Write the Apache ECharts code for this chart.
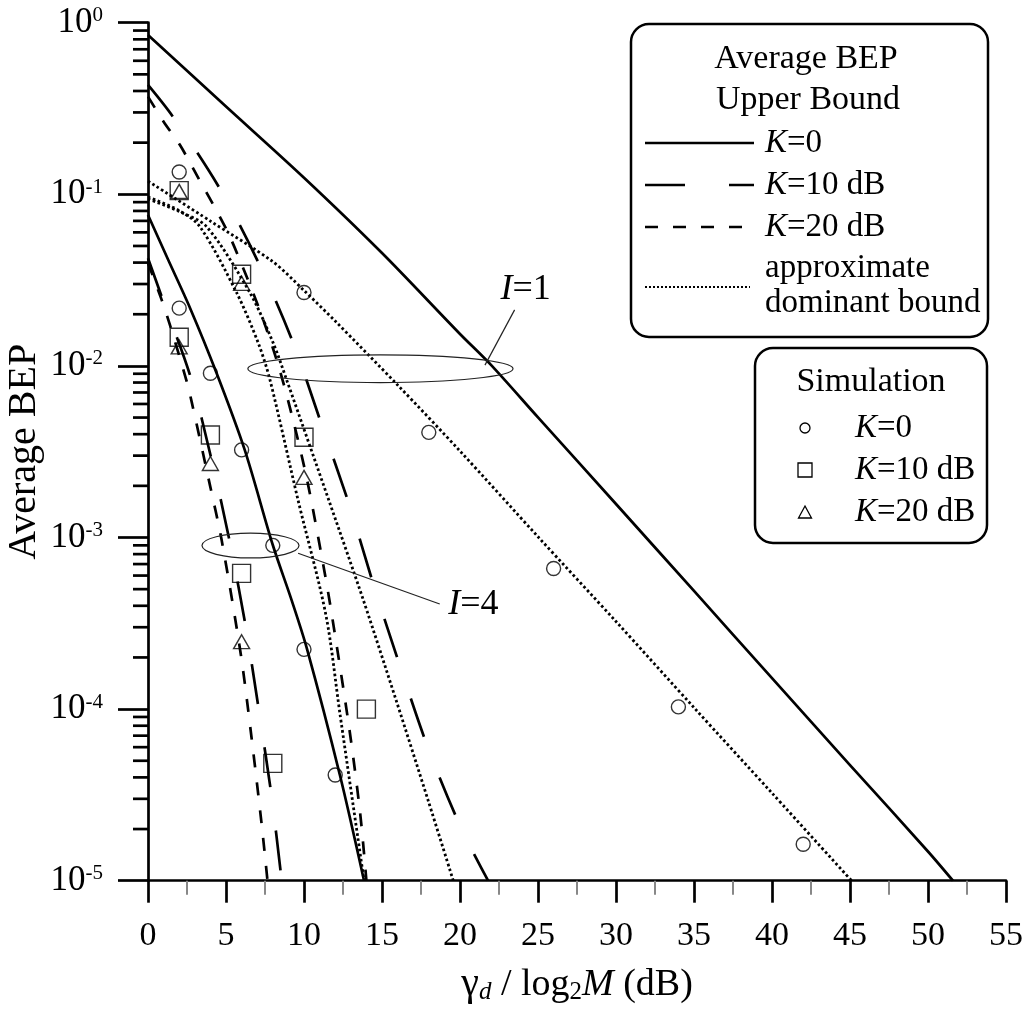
<!DOCTYPE html>
<html><head><meta charset="utf-8">
<script src="https://cdn.jsdelivr.net/npm/echarts@6/dist/echarts.min.js"></script>
<style>html,body{margin:0;padding:0;background:#fff}#c{width:1023px;height:1012px}</style>
</head><body><div id="c"></div>
<script>
const FONT = "'Liberation Serif','Times New Roman',serif";

// ---------- data ----------
// Upper bounds, I = 1
const ub1_K0_x  = [0, 5, 10, 15, 20, 22, 25, 30, 35, 40, 45, 50, 51.6];
const ub1_K0_y  = [0.847, 0.325, 0.125, 0.0455, 0.01535, 0.0101, 5.01e-3, 1.567e-3, 4.88e-4, 1.514e-4, 4.72e-5, 1.48e-5, 1.0e-5];
const ub1_K10_x = [0, 1.6, 4.6, 7.1, 9.3, 11.1, 12.9, 14.5, 16.2, 18.0, 20.1, 21.8];
const ub1_K10_y = [0.434, 0.283, 0.108, 0.0396, 0.01365, 4.63e-3, 1.55e-3, 5.16e-4, 1.73e-4, 5.78e-5, 2.0e-5, 1.0e-5];
const ub1_K20_x = [0, 1.0, 2.05, 3.3, 4.2, 5.1, 5.8, 7.2, 8.35, 9.3, 10.2, 11.1, 11.7, 12.9, 13.6, 14.0];
const ub1_K20_y = [0.371, 0.265, 0.1936, 0.121, 0.0865, 0.0605, 0.0433, 0.0207, 0.0101, 4.84e-3, 2.16e-3, 8.09e-4, 3.95e-4, 7.73e-5, 2.47e-5, 1.0e-5];
// Approximate dominant bounds, I = 1
const ap1_K0_x  = [0, 4, 8, 10, 12, 16, 20, 25, 30, 35, 40, 45.1];
const ap1_K0_y  = [0.1194, 0.0698, 0.0405, 0.0275, 0.01824, 7.74e-3, 3.19e-3, 1.01e-3, 3.24e-4, 1.02e-4, 3.24e-5, 1.0e-5];
const ap1_K10_x = [0, 2, 3.76, 6.54, 8.03, 8.89, 11.59, 13.8, 15.9, 17.95, 19.57];
const ap1_K10_y = [0.094, 0.0794, 0.0647, 0.0266, 0.01358, 8.28e-3, 1.65e-3, 4.33e-4, 1.13e-4, 2.95e-5, 1.0e-5];
const ap1_K20_x = [0, 2, 3.33, 5.69, 7.07, 7.82, 9.62, 11.4, 12.3, 13.85];
const ap1_K20_y = [0.0964, 0.0804, 0.0647, 0.0266, 0.01358, 8.28e-3, 1.65e-3, 3.55e-4, 9.46e-5, 1.0e-5];
// Upper bounds, I = 4
const ub4_K0_x  = [0, 1.3, 2.7, 4.4, 6.2, 8.0, 9.2, 10.2, 12.3, 13.85];
const ub4_K0_y  = [0.0757, 0.0414, 0.0217, 9.06e-3, 3.24e-3, 9.04e-4, 4.33e-4, 2.23e-4, 4.13e-5, 1.0e-5];
const ub4_K10_x = [0, 0.88, 2.69, 4.08, 5.26, 6.28, 7.13, 7.93, 8.57];
const ub4_K10_y = [0.0424, 0.0253, 8.85e-3, 2.83e-3, 9.25e-4, 2.96e-4, 9.53e-5, 3.06e-5, 1.0e-5];
const ub4_K20_x = [0, 0.86, 1.4, 2.48, 2.8, 3.97, 4.72, 5.94, 6.65, 7.29, 7.66];
const ub4_K20_y = [0.0398, 0.0245, 0.0174, 8.13e-3, 6.17e-3, 2.02e-3, 9.66e-4, 2.11e-4, 6.67e-5, 2.11e-5, 1.0e-5];
// Simulation points
const sim_K0_x  = [2, 10, 18, 26, 34, 42, 2, 4, 6, 8, 10, 12];
const sim_K0_y  = [0.135, 0.0268, 0.0041, 6.6e-4, 1.03e-4, 1.63e-5, 0.0217, 0.00906, 0.00324, 9.0e-4, 2.23e-4, 4.13e-5];
const sim_K10_x = [2, 6, 10, 14, 2, 4, 6, 8];
const sim_K10_y = [0.105, 0.0342, 0.00384, 1.0e-4, 0.0147, 0.00396, 6.18e-4, 4.83e-5];
const sim_K20_x = [2, 6, 10, 2, 4, 6];
const sim_K20_y = [0.104, 0.0303, 0.00224, 0.0129, 0.0027, 2.47e-4];
// Axis ticks
const xMin = 0, xMax = 55, xStep = 5;
const yMin = 1e-5, yMax = 1;
const minorMantissas = [2, 3, 4, 5, 6, 7, 8, 9];
const minorDecades = [-5, -4, -3, -2, -1];

// ---------- helpers ----------
const zip = (xs, ys) => xs.map((x, i) => [x, ys[i]]);
const LW = 2.7;
const SOLID = 'solid', LONG = [40, 44], SHORT = [13, 15], DOT = [2.6, 2.6];

function lineSeries(name, xs, ys, dash, w) {
  return {
    name, type: 'line', data: zip(xs, ys), showSymbol: false, symbol: 'none',
    smooth: 0.3, silent: true, z: 3,
    lineStyle: { color: '#000', width: w || LW, type: dash, cap: 'butt', join: 'round' }
  };
}
function simSeries(name, xs, ys, symbol, size) {
  return {
    name, type: 'scatter', data: zip(xs, ys), symbol, symbolSize: size, z: 5,
    itemStyle: { color: 'rgba(0,0,0,0)', borderColor: '#000', borderWidth: 1.4 }
  };
}

const minorVals = [];
minorDecades.forEach(e => minorMantissas.forEach(m => minorVals.push([0, +(m * Math.pow(10, e)).toPrecision(3)])));

const chart = echarts.init(document.getElementById('c'), null, { renderer: 'canvas' });
const option = {
  animation: false,
  backgroundColor: '#fff',
  textStyle: { fontFamily: FONT, color: '#000' },
  grid: { left: 148, right: 17, top: 22.7, bottom: 131.3, containLabel: false, outerBoundsMode: 'none' },
  xAxis: {
    type: 'value', min: xMin, max: xMax, interval: xStep,
    axisLine: { lineStyle: { color: '#000', width: LW } },
    axisTick: { length: 22, lineStyle: { color: '#000', width: LW } },
    minorTick: { show: true, splitNumber: 2, length: 14, lineStyle: { color: '#888', width: 2 } },
    splitLine: { show: false },
    axisLabel: { margin: 38, fontFamily: FONT, fontSize: 34, color: '#000' },
    name: '{g|γ}{sub|d}{t| / log}{sub2|2}{i|M}{t| (dB)}',
    nameLocation: 'middle', nameGap: 84, nameMoveOverlap: false,
    nameTextStyle: {
      fontFamily: FONT, fontSize: 38, color: '#000',
      rich: {
        g: { fontFamily: FONT, fontSize: 40, color: '#000' },
        t: { fontFamily: FONT, fontSize: 38, color: '#000' },
        i: { fontFamily: FONT, fontSize: 38, fontStyle: 'italic', color: '#000' },
        sub: { fontFamily: FONT, fontSize: 25, fontStyle: 'italic', verticalAlign: 'bottom', color: '#000' },
        sub2: { fontFamily: FONT, fontSize: 25, verticalAlign: 'bottom', color: '#000' }
      }
    }
  },
  yAxis: {
    type: 'log', logBase: 10, min: yMin, max: yMax, splitNumber: 5,
    axisLine: { lineStyle: { color: '#000', width: LW } },
    axisTick: { length: 30, lineStyle: { color: '#000', width: LW } },
    splitLine: { show: false },
    axisLabel: {
      margin: 45,
      formatter: v => '{b|10}{s|' + Math.round(Math.log10(v)) + '}',
      rich: {
        b: { fontFamily: FONT, fontSize: 35, color: '#000' },
        s: { fontFamily: FONT, fontSize: 21, color: '#000', verticalAlign: 'top' }
      }
    },
    name: 'Average BEP', nameLocation: 'middle', nameGap: 104, nameRotate: 90, nameMoveOverlap: false,
    nameTextStyle: { fontFamily: FONT, fontSize: 40, color: '#000' }
  },
  series: [
    {
      type: 'custom', name: 'minor y ticks', coordinateSystem: 'cartesian2d', clip: false, silent: true,
      data: minorVals, z: 4,
      renderItem: (params, api) => {
        const p = api.coord([0, api.value(1)]);
        return { type: 'line', shape: { x1: p[0] - 15, y1: p[1], x2: p[0], y2: p[1] },
                 style: { stroke: '#000', lineWidth: LW } };
      }
    },
    lineSeries('UB I=1 K=0', ub1_K0_x, ub1_K0_y, SOLID),
    lineSeries('UB I=1 K=10 dB', ub1_K10_x, ub1_K10_y, LONG),
    lineSeries('UB I=1 K=20 dB', ub1_K20_x, ub1_K20_y, SHORT),
    lineSeries('Approx I=1 K=0', ap1_K0_x, ap1_K0_y, DOT, 2.8),
    lineSeries('Approx I=1 K=10 dB', ap1_K10_x, ap1_K10_y, DOT, 2.8),
    lineSeries('Approx I=1 K=20 dB', ap1_K20_x, ap1_K20_y, DOT, 2.8),
    lineSeries('UB I=4 K=0', ub4_K0_x, ub4_K0_y, SOLID),
    lineSeries('UB I=4 K=10 dB', ub4_K10_x, ub4_K10_y, LONG),
    lineSeries('UB I=4 K=20 dB', ub4_K20_x, ub4_K20_y, SHORT),
    simSeries('Sim K=0', sim_K0_x, sim_K0_y, 'circle', 14),
    simSeries('Sim K=10 dB', sim_K10_x, sim_K10_y, 'rect', 18),
    simSeries('Sim K=20 dB', sim_K20_x, sim_K20_y, 'triangle', [16, 14])
  ]
};
chart.setOption(option);

// ---------- annotations & legend boxes ----------
const P = (x, y) => chart.convertToPixel({ gridIndex: 0 }, [x, y]);
function ellipseFromBounds(x0, x1, yTop, yBot) {
  const a = P(x0, yTop), b = P(x1, yBot);
  return { type: 'ellipse', z: 6, silent: true,
    shape: { cx: (a[0] + b[0]) / 2, cy: (a[1] + b[1]) / 2, rx: Math.abs(b[0] - a[0]) / 2, ry: Math.abs(b[1] - a[1]) / 2 },
    style: { fill: null, stroke: '#222', lineWidth: 1.2 } };
}
function pointer(xa, ya, xb, yb) {
  const a = P(xa, ya), b = P(xb, yb);
  return { type: 'line', z: 6, silent: true, shape: { x1: a[0], y1: a[1], x2: b[0], y2: b[1] },
    style: { stroke: '#222', lineWidth: 1.2 } };
}
function iLabel(x, y, num) {
  const p = P(x, y);
  return { type: 'text', z: 6, x: p[0], y: p[1], silent: true,
    style: { text: '{i|I}{n|=' + num + '}', verticalAlign: 'middle', align: 'left',
      rich: { i: { fontFamily: FONT, fontSize: 36, fontStyle: 'italic', fill: '#000' },
              n: { fontFamily: FONT, fontSize: 36, fill: '#000' } } } };
}
const LF = 33;
const kText = (x, y, rest) => ({ type: 'text', x, y, z: 11,
  style: { text: '{i|K}{n|' + rest + '}', verticalAlign: 'middle', align: 'left',
    rich: { i: { fontFamily: FONT, fontSize: LF, fontStyle: 'italic', fill: '#000' },
            n: { fontFamily: FONT, fontSize: LF, fill: '#000' } } } });
const plainText = (x, y, t, align, fs) => ({ type: 'text', x, y, z: 11,
  style: { text: t, fontFamily: FONT, fontSize: fs || LF, fill: '#000', verticalAlign: 'middle', align: align || 'left' } });
const sample = (y, dash, w) => ({ type: 'line', z: 11, shape: { x1: 645, y1: y, x2: 754, y2: y },
  style: { stroke: '#000', lineWidth: w || LW, lineDash: dash } });

const graphics = [
  ellipseFromBounds(6.4, 23.4, 0.0116, 0.0080),
  ellipseFromBounds(3.46, 9.68, 1.06e-3, 7.6e-4),
  pointer(21.6, 0.0101, 23.5, 0.0212),
  pointer(9.62, 8.1e-4, 18.7, 4.1e-4),
  iLabel(22.6, 0.0277, 1),
  iLabel(19.25, 4.05e-4, 4),
  // box 1
  { type: 'rect', z: 10, shape: { x: 631, y: 24, width: 357, height: 313, r: 18 },
    style: { fill: '#fff', stroke: '#000', lineWidth: 2.5 } },
  plainText(806, 59, 'Average BEP', 'center', 34),
  plainText(808, 100, 'Upper Bound', 'center', 34),
  sample(143, null),
  sample(185, LONG),
  { type: 'line', z: 11, shape: { x1: 645, y1: 227, x2: 745, y2: 227 }, style: { stroke: '#000', lineWidth: LW, lineDash: SHORT } },
  { type: 'line', z: 11, shape: { x1: 645, y1: 287, x2: 750, y2: 287 }, style: { stroke: '#000', lineWidth: 2, lineDash: [2, 2] } },
  kText(765, 143, '=0'),
  kText(765, 185, '=10 dB'),
  kText(765, 227, '=20 dB'),
  plainText(765, 268, 'approximate'),
  plainText(765, 303, 'dominant bound'),
  // box 2
  { type: 'rect', z: 10, shape: { x: 755, y: 348, width: 232, height: 195, r: 18 },
    style: { fill: '#fff', stroke: '#000', lineWidth: 2.5 } },
  plainText(871, 382, 'Simulation', 'center', 34),
  { type: 'circle', z: 11, shape: { cx: 805, cy: 428, r: 5 }, style: { fill: null, stroke: '#000', lineWidth: 1.3 } },
  { type: 'rect', z: 11, shape: { x: 798, y: 463, width: 14, height: 14 }, style: { fill: null, stroke: '#000', lineWidth: 1.3 } },
  { type: 'polygon', z: 11, shape: { points: [[805, 506], [811.5, 518], [798.5, 518]] }, style: { fill: null, stroke: '#000', lineWidth: 1.3 } },
  kText(855, 428, '=0'),
  kText(855, 470, '=10 dB'),
  kText(855, 512, '=20 dB')
];
chart.setOption({ graphic: graphics });
</script></body></html>
